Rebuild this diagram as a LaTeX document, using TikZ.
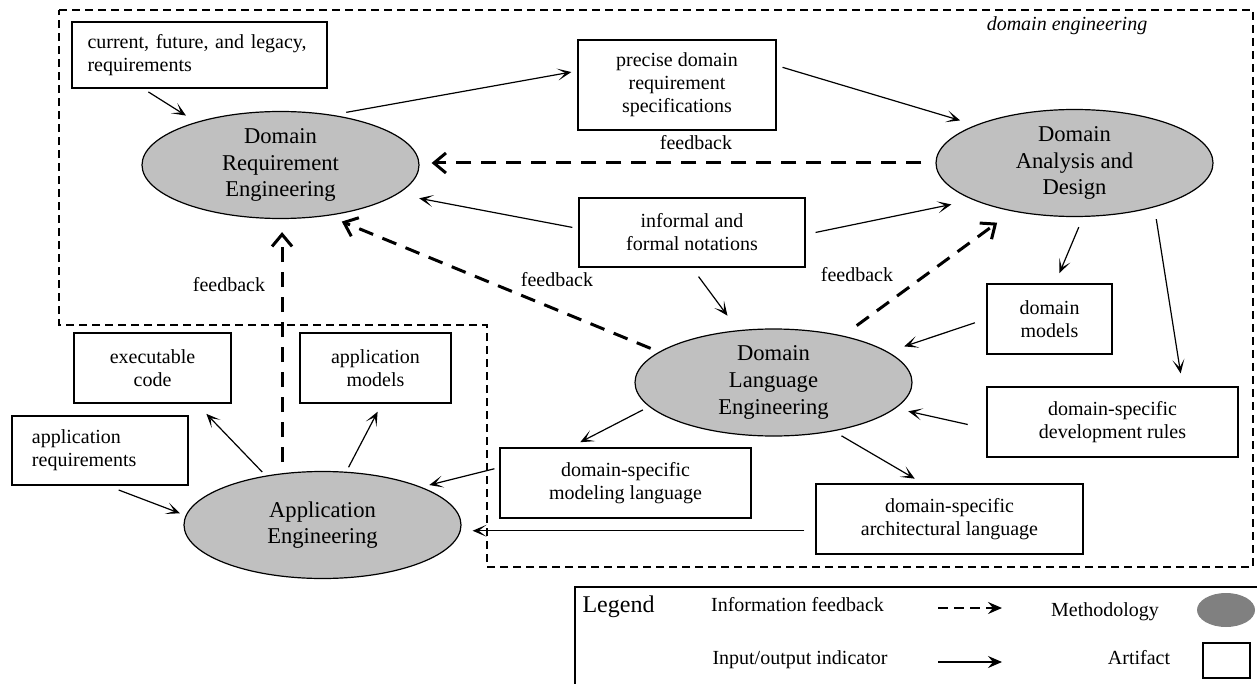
\documentclass[tikz,border=0pt]{standalone}
\usepackage{fontspec}
\setmainfont{Liberation Serif}
\usetikzlibrary{shapes.geometric,arrows.meta}

\begin{document}
\begin{tikzpicture}[x=0.5pt,y=0.5pt,yscale=-1,xscale=1,
  method/.style={ellipse,draw,line width=0.6pt,fill={rgb,255:red,192;green,192;blue,192},minimum width=138.5pt,minimum height=53.5pt,inner sep=0pt,align=center,font=\fontsize{11.3}{13.3}\selectfont},
  artifact/.style={rectangle,draw,line width=0.75pt,inner sep=0pt,align=center,font=\fontsize{10}{11.5}\selectfont},
  io/.style={-{Stealth[length=7pt,width=6pt,inset=4pt]},line width=0.6pt},
  fback/.style={-{Straight Barb[length=6pt,width=10pt]},line width=1.5pt,dash pattern=on 7.5pt off 5pt},
  lbl/.style={inner sep=0pt,font=\fontsize{10}{11.5}\selectfont}]
\clip (0,0) rectangle (1257,684);

%Straight Lines: domain engineering region
\draw [line width=0.65pt,dash pattern=on 4pt off 2.5pt] (59,10) -- (1253,10) -- (1253,567) -- (487,567) -- (487,325) -- (59,325) -- cycle ;

% Text Node
\node [lbl,font=\fontsize{10}{11.5}\selectfont\itshape] (deng) at (1067,26) {domain engineering};

%Shape: Ellipse
\node [method] (dre) at (280.5,165) {Domain\\Requirement\\Engineering};
%Shape: Ellipse
\node [method] (dad) at (1074.5,163) {Domain\\Analysis and\\Design};
%Shape: Ellipse
\node [method] (dle) at (773.5,382.5) {Domain\\Language\\Engineering};
%Shape: Ellipse
\node [method] (ae) at (322.5,525) {Application\\Engineering};

%Shape: Rectangle
\node [artifact,align=left,text width=112pt,inner xsep=7.75pt,minimum height=33pt] (cur) at (199.5,55) {current, future, and legacy,\\requirements};
%Shape: Rectangle
\node [artifact,minimum width=99pt,minimum height=45pt] (prec) at (677,85) {precise domain\\requirement\\specifications};
%Shape: Rectangle
\node [artifact,minimum width=113pt,minimum height=34.5pt] (informal) at (692,232.5) {informal and\\formal notations};
%Shape: Rectangle
\node [artifact,minimum width=62.5pt,minimum height=35pt] (dmod) at (1049.5,319) {domain\\models};
%Shape: Rectangle
\node [artifact,minimum width=125.5pt,minimum height=35pt] (dev) at (1112.5,422) {domain-specific\\development rules};
%Shape: Rectangle
\node [artifact,minimum width=125.5pt,minimum height=35pt] (modeling) at (625.5,483) {domain-specific\\modeling language};
%Shape: Rectangle
\node [artifact,minimum width=133.5pt,minimum height=35pt] (arch) at (949.5,519) {domain-specific\\architectural language};
%Shape: Rectangle
\node [artifact,minimum width=78.5pt,minimum height=35pt] (exec) at (152.5,368) {executable\\code};
%Shape: Rectangle
\node [artifact,minimum width=75.5pt,minimum height=35pt] (appmod) at (375.5,368) {application\\models};
%Shape: Rectangle
\node [artifact,align=left,text width=68pt,inner xsep=10pt,minimum height=34.5pt] (appreq) at (100,450.5) {application\\requirements};

% Text Node
\node [lbl] (fb1) at (696,143) {feedback};
% Text Node
\node [lbl] (fb2) at (229,285) {feedback};
% Text Node
\node [lbl] (fb3) at (557,280) {feedback};
% Text Node
\node [lbl] (fb4) at (857,275) {feedback};

%Straight Lines
\draw [io,shorten <=3pt,shorten >=6pt] (cur.211) -- (dre.153) ;
\draw [io,shorten <=7pt,shorten >=3pt] (dre.44) -- (prec.172) ;
\draw [io,shorten <=3pt,shorten >=8pt] (prec.11) -- (dad.159) ;
\draw [io,shorten <=3pt,shorten >=11pt] (informal.178) -- (dre.-14) ;
\draw [io,shorten <=5pt,shorten >=11pt] (informal.-1) -- (dad.200) ;
\draw [io,shorten <=5.5pt,shorten >=9pt] (informal.south) -- (dle.124) ;
\draw [io,shorten <=5.5pt,shorten >=5.5pt] (dad.-81) -- (dmod.81) ;
\draw [io,shorten <=6pt,shorten >=6.5pt] (dad.-29) -- (dev.27) ;
\draw [io,shorten <=6pt,shorten >=8.5pt] (dmod.west) -- (dle.15) ;
\draw [io,shorten <=9.5pt,shorten >=6.5pt] (dev.183) -- (dle.-12) ;
\draw [io,shorten <=3.5pt,shorten >=5.5pt] (dle.191) -- (modeling.147) ;
\draw [io,shorten <=4.5pt,shorten >=4.5pt] (dle.-39) -- (arch.127) ;
\draw [io,shorten <=5.5pt,shorten >=5.5pt] (arch.185) -- (arch.185 -| ae.east) ;
\draw [io,shorten <=2.5pt,shorten >=4pt] (modeling.173) -- (ae.21) ;
\draw [io,shorten <=2.5pt,shorten >=7pt] (ae.139) -- (exec.-39) ;
\draw [io,shorten <=2.5pt,shorten >=4.5pt] (ae.66) -- (appmod.-80) ;
\draw [io,shorten <=6pt,shorten >=3pt] (appreq.-78) -- (ae.176) ;

%Dashed Lines: feedback
\draw [fback,shorten <=7pt,shorten >=6pt] (dad.west) -- (dad.west -| dre.east) ;
\draw [fback,shorten <=4.5pt,shorten >=7.5pt] (dle.165) -- (dre.-47) ;
\draw [fback,shorten <=8.5pt,shorten >=9.5pt] (dle.34) -- (dad.218) ;
\draw [fback,shorten <=5.5pt,shorten >=6.5pt] (ae.128) -- (ae.128 |- dre.south) ;

%Legend
\draw [line width=0.9pt] (575,587) rectangle (1270,700) ;
\node [inner sep=0pt,font=\fontsize{12}{14}\selectfont] (leg) at (618.5,607) {Legend};
\node [lbl] (lfb) at (797.5,605) {Information feedback};
\node [lbl] (lio) at (800,660) {Input/output indicator};
\node [lbl] (lmeth) at (1105,612) {Methodology};
\node [lbl] (lart) at (1139,658) {Artifact};
\coordinate (fbs) at (938,608);
\coordinate (fbe) at (1002,608);
\coordinate (ios) at (938,662);
\coordinate (ioe) at (1002,662);
\draw [-{Stealth[length=7pt,width=6pt,inset=2.5pt]},line width=1pt,dash pattern=on 5pt off 3pt] (fbs) -- (fbe) ;
\draw [-{Stealth[length=7pt,width=6pt,inset=2.5pt]},line width=0.8pt] (ios) -- (ioe) ;
\node [ellipse,fill={rgb,255:red,128;green,128;blue,128},minimum width=29pt,minimum height=17pt,inner sep=0pt] (lell) at (1226,610) {};
\node [draw,line width=1pt,minimum width=23.5pt,minimum height=17.5pt,inner sep=0pt] (lbox) at (1226.5,660.5) {};

\end{tikzpicture}
\end{document}
